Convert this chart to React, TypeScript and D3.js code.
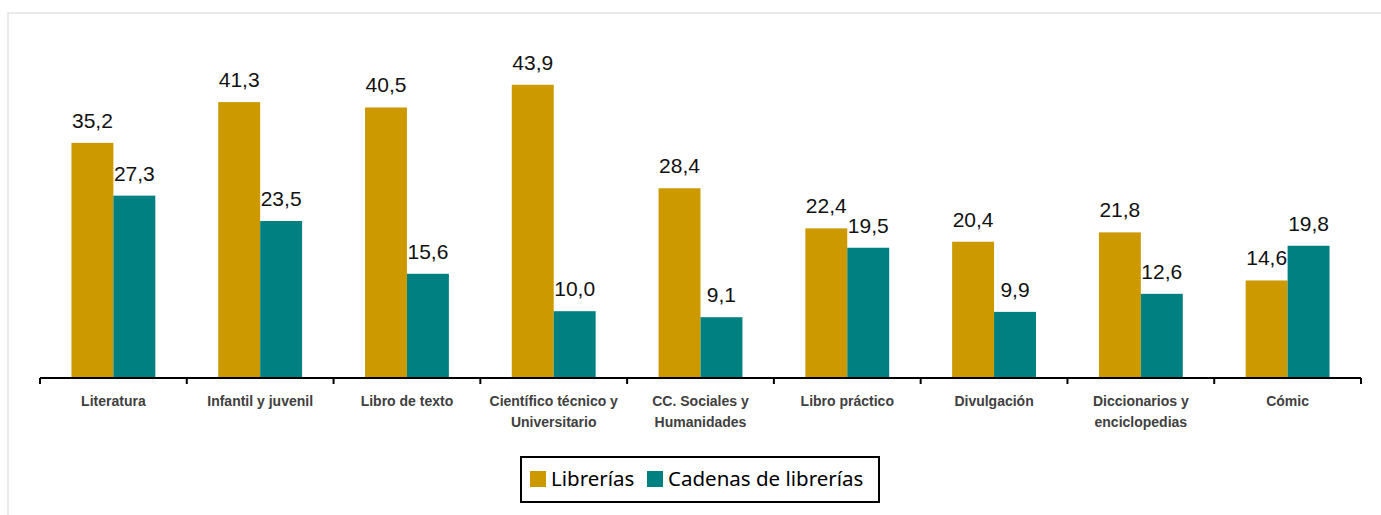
import * as d3 from "d3";

// categories (each line of a wrapped label is its own entry)
const categories: string[][] = [
  ["Literatura"],
  ["Infantil y juvenil"],
  ["Libro de texto"],
  ["Científico técnico y", "Universitario"],
  ["CC. Sociales y", "Humanidades"],
  ["Libro práctico"],
  ["Divulgación"],
  ["Diccionarios y", "enciclopedias"],
  ["Cómic"],
];

const seriesNames = ["Librerías", "Cadenas de librerías"];
const librerias = [35.2, 41.3, 40.5, 43.9, 28.4, 22.4, 20.4, 21.8, 14.6];
const cadenas = [27.3, 23.5, 15.6, 10.0, 9.1, 19.5, 9.9, 12.6, 19.8];
const colors = ["#CC9900", "#008080"];

const fmt = (v: number) => v.toFixed(1).replace(".", ",");

export default function App() {
  const width = 1381;
  const height = 515;
  const margin = { top: 44, right: 20, bottom: 137, left: 40 };
  const axisY = height - margin.bottom;

  const keys = categories.map((c) => c.join(" "));
  const x0 = d3
    .scaleBand<string>()
    .domain(keys)
    .range([margin.left, 1361])
    .padding(0);
  const bw = x0.bandwidth();
  const x1 = d3
    .scaleBand<string>()
    .domain(seriesNames)
    .range([bw * 0.2143, bw * 0.7857])
    .padding(0);

  const y = d3.scaleLinear().domain([0, 50]).range([axisY, margin.top]);

  const seriesData = [librerias, cadenas];

  return (
    <svg
      width={width}
      height={height}
      style={{ position: "absolute", left: 0, top: 0, background: "#fff" }}
    >
      {/* chart frame */}
      <rect
        x={8}
        y={13}
        width={1420}
        height={560}
        fill="#fff"
        stroke="#e3e3e3"
        strokeWidth={1.5}
      />

      {/* bars */}
      {seriesData.map((vals, si) =>
        vals.map((v, i) => {
          const bx = x0(keys[i])! + x1(seriesNames[si])!;
          return (
            <rect
              key={`b${si}-${i}`}
              x={bx}
              y={y(v)}
              width={x1.bandwidth()}
              height={axisY - y(v)}
              fill={colors[si]}
            />
          );
        })
      )}

      {/* value labels */}
      {seriesData.map((vals, si) =>
        vals.map((v, i) => {
          const cx = x0(keys[i])! + x1(seriesNames[si])! + x1.bandwidth() / 2;
          return (
            <text
              key={`l${si}-${i}`}
              x={cx}
              y={y(v) - 15}
              textAnchor="middle"
              fontFamily="'Liberation Sans', Arial, sans-serif"
              fontSize={21}
              fill="#111"
            >
              {fmt(v)}
            </text>
          );
        })
      )}

      {/* x axis */}
      <line
        x1={margin.left}
        x2={1361}
        y1={axisY}
        y2={axisY}
        stroke="#000"
        strokeWidth={2}
      />
      {d3.range(keys.length + 1).map((i) => {
        const tx = margin.left + i * bw;
        return (
          <line
            key={`t${i}`}
            x1={tx}
            x2={tx}
            y1={axisY}
            y2={axisY + 6}
            stroke="#000"
            strokeWidth={2}
          />
        );
      })}

      {/* category labels */}
      {categories.map((lines, i) => (
        <text
          key={`c${i}`}
          x={x0(keys[i])! + bw / 2}
          y={406}
          textAnchor="middle"
          fontFamily="'Liberation Sans', Arial, sans-serif"
          fontSize={14}
          fontWeight="bold"
          fill="#404040"
        >
          {lines.map((ln, j) => (
            <tspan key={j} x={x0(keys[i])! + bw / 2} dy={j === 0 ? 0 : 21}>
              {ln}
            </tspan>
          ))}
        </text>
      ))}

      {/* legend */}
      <g>
        <rect
          x={521}
          y={457}
          width={358}
          height={45}
          fill="#fff"
          stroke="#000"
          strokeWidth={2}
        />
        <rect x={530} y={471} width={16} height={16} fill={colors[0]} />
        <text
          x={551}
          y={486}
          fontFamily="'Noto Sans', 'Open Sans', sans-serif"
          fontSize={20.5}
          fill="#000"
        >
          {seriesNames[0]}
        </text>
        <rect x={647} y={471} width={16} height={16} fill={colors[1]} />
        <text
          x={668}
          y={486}
          fontFamily="'Noto Sans', 'Open Sans', sans-serif"
          fontSize={20.5}
          fill="#000"
        >
          {seriesNames[1]}
        </text>
      </g>
    </svg>
  );
}
